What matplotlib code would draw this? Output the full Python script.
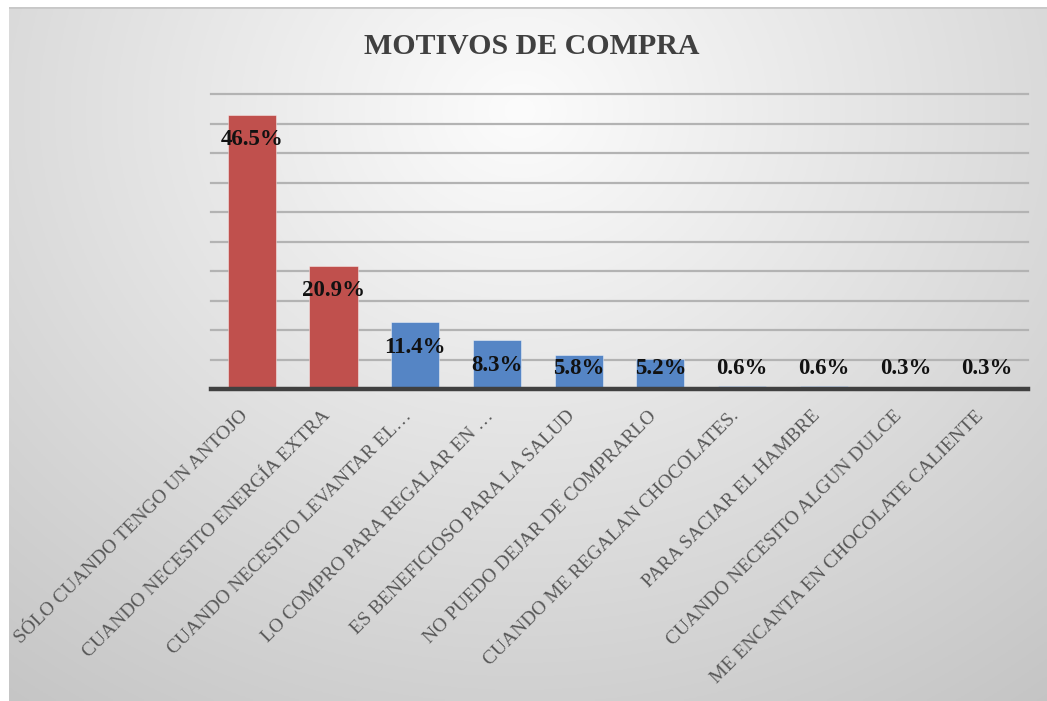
import numpy as np
import matplotlib
matplotlib.use("Agg")
import matplotlib.pyplot as plt

# ---- data ----
title = "MOTIVOS DE COMPRA"
categories = [
    "SÓLO CUANDO TENGO UN ANTOJO",
    "CUANDO NECESITO ENERGÍA EXTRA",
    "CUANDO NECESITO LEVANTAR EL…",
    "LO COMPRO PARA REGALAR EN …",
    "ES BENEFICIOSO PARA LA SALUD",
    "NO PUEDO DEJAR DE COMPRARLO",
    "CUANDO ME REGALAN CHOCOLATES.",
    "PARA SACIAR EL HAMBRE",
    "CUANDO NECESITO ALGUN DULCE",
    "ME ENCANTA EN CHOCOLATE CALIENTE",
]
values = [46.5, 20.9, 11.4, 8.3, 5.8, 5.2, 0.6, 0.6, 0.3, 0.3]
highlighted = 2  # number of leading bars drawn in red

# ---- style ----
RED = "#C0504D"
BLUE = "#5585C5"
SERIF = ["Liberation Serif", "DejaVu Serif"]
W, H = 1047, 701

fig = plt.figure(figsize=(W / 100, H / 100), dpi=100)
fig.patch.set_facecolor("white")

# background gradient panel
bg = fig.add_axes([9 / W, 0, 1 - 9 / W, 1 - 7 / H], zorder=-10)
nx, ny = 400, 270
xx, yy = np.meshgrid(np.linspace(9, W, nx), np.linspace(7, H, ny))
dist = np.sqrt(((xx - 520) / 1.15) ** 2 + ((yy - 110) / 1.0) ** 2)
shade = np.clip(252 - 0.074 * dist, 190, 255) / 255.0
img = np.dstack([shade, shade, shade])
bg.imshow(img, extent=[0, 1, 0, 1], aspect="auto", origin="upper")
bg.axhline(1, color="#c8c8c8", lw=2.0)
bg.set_xlim(0, 1)
bg.set_ylim(0, 1)
bg.axis("off")

# main plot
ax = fig.add_axes([211 / W, (H - 389.3) / H, 817 / W, (389.3 - 94) / H])
ax.patch.set_alpha(0)
x = np.arange(len(categories))
colors = [RED if i < highlighted else BLUE for i in range(len(categories))]
ax.bar(x, values, width=0.59, color=colors, edgecolor=(1, 1, 1, 0.5),
       linewidth=0.6, zorder=3)

ax.set_xlim(-0.5, len(categories) - 0.5)
ax.set_ylim(0, 50)
for gy in np.arange(5, 51, 5):
    ax.axhline(gy, color="#b3b3b3", lw=1.6, zorder=1, clip_on=False)
ax.axhline(0, color="#404040", lw=3.2, zorder=4, clip_on=False)

for s in ax.spines.values():
    s.set_visible(False)
ax.set_yticks([])
ax.set_xticks(x)
ax.set_xticklabels(categories, rotation=45, ha="right", rotation_mode="default",
                   fontsize=14, color="#595959", family=SERIF)
ax.tick_params(axis="x", length=0, pad=13)

for xi, v in zip(x, values):
    ax.text(xi, max(v - 4.25, 3.6), f"{v:.1f}%", ha="center", va="center",
            fontsize=16.5, fontweight="bold", color="#111111", family=SERIF,
            zorder=5)

fig.text(532 / W, 1 - 47 / H, title, ha="center", va="center", fontsize=21.5,
         fontweight="bold", color="#404040", family=SERIF)

fig.savefig("out.png", dpi=100)
